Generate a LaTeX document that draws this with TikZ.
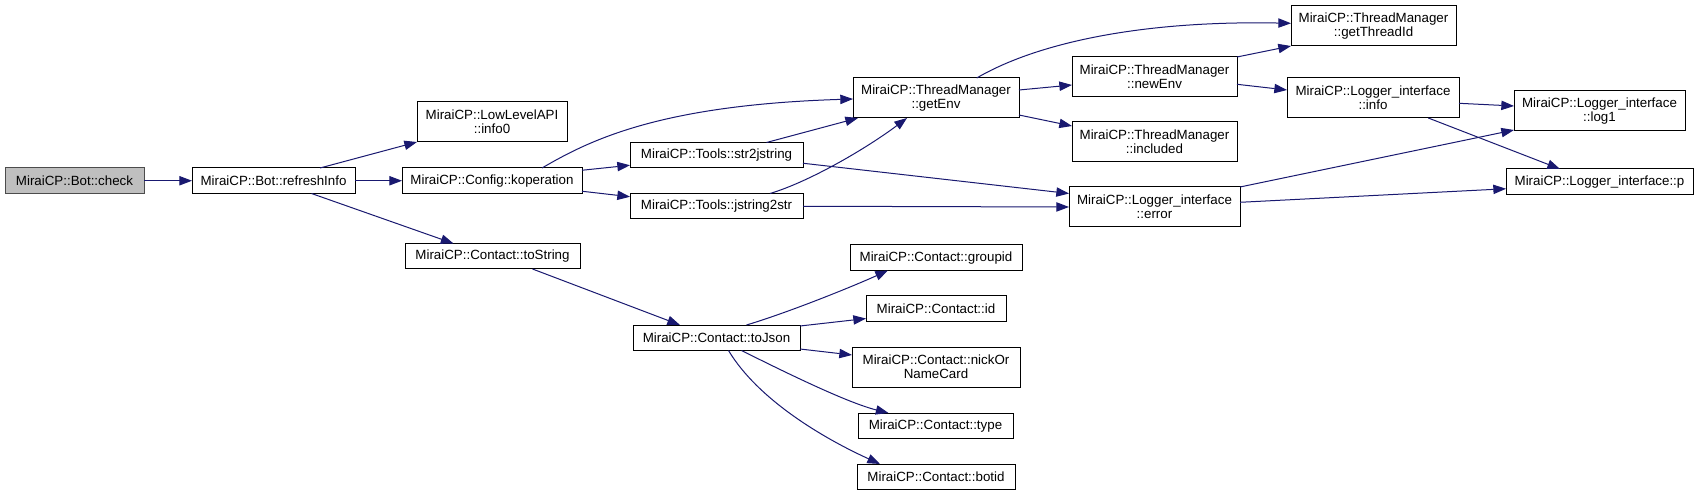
\documentclass[tikz,border=0pt]{standalone}
\usepackage{fontspec}
\setmainfont{Liberation Sans}
\usetikzlibrary{arrows.meta,calc}
\definecolor{edgeblue}{HTML}{191970}
\newcommand\mkbox[7][box]{%
  \node[#1,minimum width={(#5-#3)*0.75pt},minimum height={(#6-#4)*0.75pt}] (#2) at ({(#3+#5)/2},{(#4+#6)/2}) {#7};}
\begin{document}
\begin{tikzpicture}[x=0.75pt,y=-0.75pt,
  box/.style={draw=black,fill=white,line width=0.75pt,inner sep=0pt,outer sep=0pt,align=center,font=\fontsize{10}{10.8}\selectfont},
  root/.style={box,fill=gray!50,draw=black!70},
  edge/.style={draw=edgeblue,line width=0.75pt,-{Triangle[length=9.5pt,width=7pt,fill=edgeblue]}}]
\fill[white] (0,0) rectangle (1699,495);
\useasboundingbox (0,0) rectangle (1699,495);

\mkbox[root]{check}{5}{168}{144}{193.5}{MiraiCP::Bot::check}
\mkbox{refreshInfo}{192}{168}{355}{193.5}{MiraiCP::Bot::refreshInfo}
\mkbox{info0}{417}{102}{567}{142}{MiraiCP::LowLevelAPI\\::info0}
\mkbox{koperation}{402}{168}{582}{193.5}{MiraiCP::Config::koperation}
\mkbox{toString}{405}{243.5}{580}{269}{MiraiCP::Contact::toString}
\mkbox{str2jstring}{630}{142.5}{803}{168}{MiraiCP::Tools::str2jstring}
\mkbox{jstring2str}{630}{193.5}{803}{219}{MiraiCP::Tools::jstring2str}
\mkbox{toJson}{633}{325}{800}{350.5}{MiraiCP::Contact::toJson}
\mkbox{getEnv}{853}{78}{1019}{118}{MiraiCP::ThreadManager\\::getEnv}
\mkbox{newEnv}{1072}{57}{1237}{97}{MiraiCP::ThreadManager\\::newEnv}
\mkbox{included}{1072}{122}{1237}{162}{MiraiCP::ThreadManager\\::included}
\mkbox{error}{1069}{187}{1240}{227}{MiraiCP::Logger\_interface\\::error}
\mkbox{groupid}{850}{245}{1022}{270.5}{MiraiCP::Contact::groupid}
\mkbox{id}{866}{296}{1006}{321.5}{MiraiCP::Contact::id}
\mkbox{nick}{852}{347}{1020}{387}{MiraiCP::Contact::nickOr\\NameCard}
\mkbox{type}{858}{413}{1013}{438.5}{MiraiCP::Contact::type}
\mkbox{botid}{857}{464}{1015}{489.5}{MiraiCP::Contact::botid}
\mkbox{getThreadId}{1291}{6}{1456}{46}{MiraiCP::ThreadManager\\::getThreadId}
\mkbox{info}{1287}{78}{1459}{118}{MiraiCP::Logger\_interface\\::info}
\mkbox{log1}{1514}{91}{1685}{131}{MiraiCP::Logger\_interface\\::log1}
\mkbox{p}{1506}{169}{1693}{194.5}{MiraiCP::Logger\_interface::p}

\draw[edge] (check.east) -- (refreshInfo.west);
\draw[edge] ($(refreshInfo.north)+(46.5,0)$) -- (info0.south west);
\draw[edge] (refreshInfo.east) -- (koperation.west);
\draw[edge] ($(refreshInfo.south)+(38,0)$) -- ($(toString.north)+(-39,0)$);
\draw[edge] ($(koperation.north)+(50,0)$) .. controls +(48,-28) and +(-193,6) .. ($(getEnv.west)+(0,1)$);
\draw[edge] ($(koperation.east)+(0,-10.5)$) -- ($(str2jstring.west)+(0,10)$);
\draw[edge] ($(koperation.east)+(0,10.5)$) -- ($(jstring2str.west)+(0,-9.5)$);
\draw[edge] ($(str2jstring.north)+(50,0)$) -- ($(getEnv.south west)+(5,0)$);
\draw[edge] ($(jstring2str.north)+(53.5,0)$) .. controls +(40,-12) and +(-40,30) .. ($(getEnv.south)+(-29,0)$);
\draw[edge] ($(str2jstring.east)+(0,8)$) -- ($(error.west)+(0,-13.5)$);
\draw[edge] (jstring2str.east) -- (error.west);
\draw[edge] ($(getEnv.north)+(40.7,0)$) .. controls +(60,-35) and +(-150,-3) .. ($(getThreadId.west)+(0,-2.7)$);
\draw[edge] ($(getEnv.east)+(0,-8)$) -- ($(newEnv.west)+(0,8)$);
\draw[edge] ($(getEnv.east)+(0,17)$) -- ($(included.west)+(0,-16)$);
\draw[edge] (newEnv.north east) -- (getThreadId.south west);
\draw[edge] ($(newEnv.east)+(0,7.3)$) -- ($(info.west)+(0,-8)$);
\draw[edge] ($(info.east)+(0,5.3)$) -- ($(log1.west)+(0,-5)$);
\draw[edge] ($(info.south)+(55.3,0)$) -- ($(p.north)+(-39.5,0)$);
\draw[edge] (error.north east) -- ($(log1.south west)+(0,-1)$);
\draw[edge] ($(error.east)+(0,-4.7)$) -- ($(p.west)+(0,7)$);
\draw[edge] ($(toString.south)+(40,0)$) -- ($(toJson.north)+(-36.5,0)$);
\draw[edge] ($(toJson.north)+(30,0)$) .. controls +(40,-12) and +(-40,18) .. ($(groupid.south west)+(38,0)$);
\draw[edge] ($(toJson.north east)+(0,1)$) -- ($(id.west)+(0,9.8)$);
\draw[edge] ($(toJson.south east)+(0,-1.5)$) -- ($(nick.west)+(0,-12)$);
\draw[edge] ($(toJson.south)+(25,0)$) .. controls +(50,25) and +(-40,-10) .. ($(type.north)+(-47,0)$);
\draw[edge] ($(toJson.south)+(12,0)$) .. controls +(30,50) and +(-55,-25) .. ($(botid.north)+(-56,0)$);
\end{tikzpicture}
\end{document}
